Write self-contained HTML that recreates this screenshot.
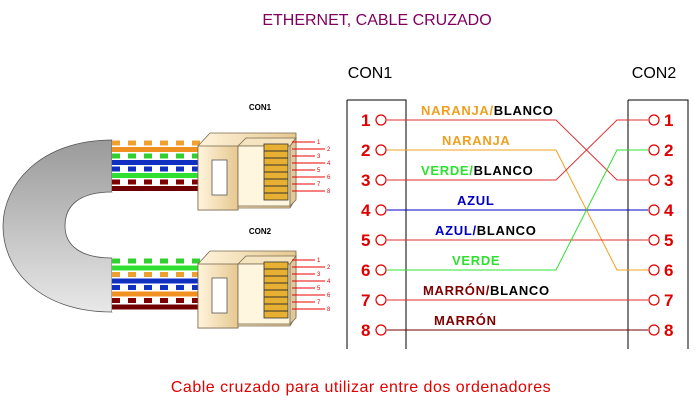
<!DOCTYPE html>
<html><head><style>
body{margin:0;background:#fff;width:697px;height:403px;overflow:hidden}
text{font-family:"Liberation Sans",sans-serif}
</style></head><body>
<svg width="697" height="403" viewBox="0 0 697 403" xmlns="http://www.w3.org/2000/svg">
<defs>
<linearGradient id="g" x1="0" y1="0" x2="0" y2="1"><stop offset="0" stop-color="#9a9a9a"/><stop offset="1" stop-color="#e8e8e8"/></linearGradient>
<linearGradient id="b" x1="0" y1="0" x2="1" y2="0"><stop offset="0" stop-color="#fff4dc"/><stop offset="1" stop-color="#e6c890"/></linearGradient>
</defs>
<text x="377" y="25" text-anchor="middle" font-size="16" fill="#800060">ETHERNET, CABLE CRUZADO</text>
<text x="370" y="78" text-anchor="middle" font-size="16" fill="#000">CON1</text>
<text x="654" y="78" text-anchor="middle" font-size="16" fill="#000">CON2</text>
<text x="361" y="392" text-anchor="middle" font-size="16" fill="#e00000" letter-spacing="0.5">Cable cruzado para utilizar entre dos ordenadores</text>

<path d="M112,140 C40,140 3,185 3,226 C3,270 40,312 112,312 L112,258 C80,258 65,245 65,226 C65,205 80,192 112,192 Z" fill="url(#g)" stroke="#555" stroke-width="0.8"/>
<rect x="112" y="140" width="88" height="52" fill="#fff"/>
<g stroke-width="5">
<line x1="112" y1="143" x2="200" y2="143" stroke="#f0a030" stroke-dasharray="8,8"/>
<line x1="112" y1="149.5" x2="200" y2="149.5" stroke="#f09020"/>
<line x1="112" y1="156" x2="200" y2="156" stroke="#30d030" stroke-dasharray="8,8"/>
<line x1="112" y1="162.5" x2="200" y2="162.5" stroke="#1030c0"/>
<line x1="112" y1="169" x2="200" y2="169" stroke="#1030c0" stroke-dasharray="8,8"/>
<line x1="112" y1="175.5" x2="200" y2="175.5" stroke="#30e030"/>
<line x1="112" y1="182" x2="200" y2="182" stroke="#800000" stroke-dasharray="8,8"/>
<line x1="112" y1="188.5" x2="200" y2="188.5" stroke="#700000"/>
</g>
<rect x="112" y="258" width="88" height="54" fill="#fff"/>
<g stroke-width="5">
<line x1="112" y1="261" x2="200" y2="261" stroke="#30d030" stroke-dasharray="8,8"/>
<line x1="112" y1="268" x2="200" y2="268" stroke="#30e030"/>
<line x1="112" y1="274.5" x2="200" y2="274.5" stroke="#f0a030" stroke-dasharray="8,8"/>
<line x1="112" y1="281" x2="200" y2="281" stroke="#1030c0"/>
<line x1="112" y1="287.5" x2="200" y2="287.5" stroke="#1030c0" stroke-dasharray="8,8"/>
<line x1="112" y1="294" x2="200" y2="294" stroke="#f09020"/>
<line x1="112" y1="300.5" x2="200" y2="300.5" stroke="#800000" stroke-dasharray="8,8"/>
<line x1="112" y1="307" x2="200" y2="307" stroke="#700000"/>
</g>

<g id="c1" stroke="#7a6a50" stroke-width="0.8">
<polygon points="198,146 210,133 296,133 296,198 290,208 238,208 238,210 198,210" fill="url(#b)"/>
<rect x="198" y="146" width="40" height="64" fill="url(#b)"/>
<rect x="212" y="160" width="15" height="35" fill="#fff" stroke="#555"/>
<polygon points="238,146 246,138 296,138 290,146" fill="#f4e4c0"/>
<rect x="238" y="146" width="52" height="60" fill="#fff6e0"/>
<polygon points="290,146 296,138 296,200 290,206" fill="#e0c898"/>
<rect x="264" y="144" width="24" height="56" fill="#e8b030" stroke="#333"/>
<g stroke="#333" stroke-width="1">
<line x1="264" y1="151" x2="288" y2="151"/><line x1="264" y1="158" x2="288" y2="158"/><line x1="264" y1="165" x2="288" y2="165"/><line x1="264" y1="172" x2="288" y2="172"/><line x1="264" y1="179" x2="288" y2="179"/><line x1="264" y1="186" x2="288" y2="186"/><line x1="264" y1="193" x2="288" y2="193"/>
</g>
</g>
<use href="#c1" y="118"/>
<g fill="#e00" font-size="6" font-family="Liberation Sans">
<g id="pn" stroke="#e00" stroke-width="1">
<line x1="292" y1="142" x2="315" y2="142"/><line x1="292" y1="149" x2="325" y2="149"/><line x1="292" y1="156" x2="315" y2="156"/><line x1="292" y1="163" x2="325" y2="163"/><line x1="292" y1="170" x2="315" y2="170"/><line x1="292" y1="177" x2="325" y2="177"/><line x1="292" y1="184" x2="315" y2="184"/><line x1="292" y1="191" x2="325" y2="191"/>
<text x="317" y="144" stroke="none">1</text><text x="327" y="151" stroke="none">2</text><text x="317" y="158" stroke="none">3</text><text x="327" y="165" stroke="none">4</text><text x="317" y="172" stroke="none">5</text><text x="327" y="179" stroke="none">6</text><text x="317" y="186" stroke="none">7</text><text x="327" y="193" stroke="none">8</text>
</g>
<use href="#pn" y="118"/>
</g>
<text x="260" y="110" text-anchor="middle" font-size="8" font-weight="bold">CON1</text>
<text x="260" y="234" text-anchor="middle" font-size="8" font-weight="bold">CON2</text>

<path d="M347,100 H406 V349 M347,100 V349" fill="none" stroke="#000"/>
<path d="M628,100 H688 V349 M628,100 V349" fill="none" stroke="#000"/>

<g fill="none" stroke-width="1">
<polyline points="387,120 556,120 617,180 648,180" stroke="#e03030"/>
<polyline points="387,150 556,150 617,270 648,270" stroke="#f0a020"/>
<polyline points="387,180 556,180 617,120 648,120" stroke="#e03030"/>
<polyline points="387,210 648,210" stroke="#0000c0"/>
<polyline points="387,240 648,240" stroke="#e03030"/>
<polyline points="387,270 556,270 617,150 648,150" stroke="#30e030"/>
<polyline points="387,300 648,300" stroke="#e03030"/>
<polyline points="387,330 648,330" stroke="#700000"/>
</g>
<g fill="#fff" stroke="#e00000" stroke-width="1.2">
<circle cx="381" cy="120" r="5"/><circle cx="381" cy="150" r="5"/><circle cx="381" cy="180" r="5"/><circle cx="381" cy="210" r="5"/><circle cx="381" cy="240" r="5"/><circle cx="381" cy="270" r="5"/><circle cx="381" cy="300" r="5"/><circle cx="381" cy="330" r="5"/>
<circle cx="654" cy="120" r="5"/><circle cx="654" cy="150" r="5"/><circle cx="654" cy="180" r="5"/><circle cx="654" cy="210" r="5"/><circle cx="654" cy="240" r="5"/><circle cx="654" cy="270" r="5"/><circle cx="654" cy="300" r="5"/><circle cx="654" cy="330" r="5"/>
</g>
<g fill="#e00000" font-size="17" font-weight="bold">
<text x="361" y="126">1</text><text x="361" y="156">2</text><text x="361" y="186">3</text><text x="361" y="216">4</text><text x="361" y="246">5</text><text x="361" y="276">6</text><text x="361" y="306">7</text><text x="361" y="336">8</text>
<text x="664" y="126">1</text><text x="664" y="156">2</text><text x="664" y="186">3</text><text x="664" y="216">4</text><text x="664" y="246">5</text><text x="664" y="276">6</text><text x="664" y="306">7</text><text x="664" y="336">8</text>
</g>
<g font-size="13" font-weight="bold" letter-spacing="0.7">
<text x="421" y="115"><tspan fill="#f0a020">NARANJA/</tspan><tspan fill="#000">BLANCO</tspan></text>
<text x="442" y="145" fill="#f0a020">NARANJA</text>
<text x="421" y="175"><tspan fill="#30e030">VERDE/</tspan><tspan fill="#000">BLANCO</tspan></text>
<text x="457" y="205" fill="#0000c0">AZUL</text>
<text x="435" y="235"><tspan fill="#0000c0">AZUL/</tspan><tspan fill="#000">BLANCO</tspan></text>
<text x="452" y="265" fill="#30e030">VERDE</text>
<text x="423" y="295"><tspan fill="#800000">MARRÓN/</tspan><tspan fill="#000">BLANCO</tspan></text>
<text x="434" y="325" fill="#800000">MARRÓN</text>
</g>
</svg>
</body></html>
